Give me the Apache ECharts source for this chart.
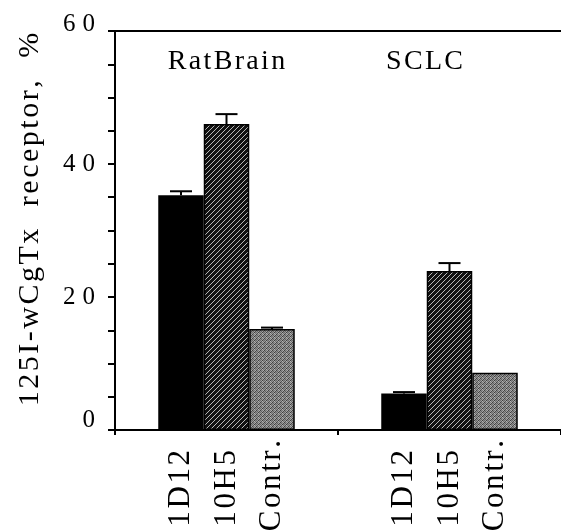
<!DOCTYPE html>
<html>
<head>
<meta charset="utf-8">
<script src="https://cdn.jsdelivr.net/npm/echarts@6/dist/echarts.min.js"></script>
<style>
  html, body { margin: 0; padding: 0; background: #fff; }
  #chart { width: 561px; height: 531px; }
</style>
</head>
<body>
<div id="chart"></div>
<script>
// values (% of 125I-wCgTx receptor)
const groups = ['RatBrain', 'SCLC'];
const antibodies = ['1D12', '10H5', 'Contr.'];
const mean1D12 = [35.3, 5.5];
const mean10H5 = [46.0, 23.9];
const meanContr = [15.2, 8.6];
const err1D12 = [0.6, 0.2];
const err10H5 = [1.5, 1.2];
const errContr = [0.2, 0];
const yTicks = [0, 20, 40, 60];
const yName = '125I-wCgTx  receptor,  %';

const means = [mean1D12, mean10H5, meanContr];
const errs = [err1D12, err10H5, errContr];

const FONT = "'Liberation Serif', 'Times New Roman', serif";
const BAR_W = 45.5;

// the print uses wide letter spacing
const THIN = '\u2009';
const HAIR = '\u200A';
const track = (s, sp) => s.split('').join(sp);

// fill patterns
function hatch() {
    const n = 5;
    const c = document.createElement('canvas');
    c.width = n; c.height = n;
    const g = c.getContext('2d');
    g.fillStyle = '#111';
    g.fillRect(0, 0, n, n);
    g.fillStyle = '#b8b8b8';
    for (let i = 0; i < n; i++) g.fillRect(i, n - 1 - i, 1, 1);
    return c;
}
function stipple() {
    const shades = [
        '#6a6a6a', '#a0a0a0', '#3c3c3c', '#888888',
        '#989898', '#555555', '#b4b4b4', '#707070',
        '#404040', '#8c8c8c', '#7a7a7a', '#acacac',
        '#909090', '#606060', '#a4a4a4', '#4a4a4a'
    ];
    const c = document.createElement('canvas');
    c.width = 4; c.height = 4;
    const g = c.getContext('2d');
    shades.forEach((col, i) => {
        g.fillStyle = col;
        g.fillRect(i % 4, Math.floor(i / 4), 1, 1);
    });
    return c;
}
const fills = [
    '#000',
    { image: hatch(), repeat: 'repeat' },
    { image: stipple(), repeat: 'repeat' }
];

const errorData = [];
errs.forEach((list, s) => list.forEach((e, k) => {
    if (e > 0) errorData.push([k, means[s][k], e, s]);
}));

const chart = echarts.init(document.getElementById('chart'), null, { renderer: 'canvas' });

const tickText = { fontFamily: FONT, fontSize: 25, color: '#000' };

const option = {
    animation: false,
    backgroundColor: '#fff',
    textStyle: { fontFamily: FONT, color: '#000' },
    grid: { left: 115, right: 0, top: 31, bottom: 101 },
    xAxis: [
        {
            type: 'category',
            data: groups,
            position: 'bottom',
            axisLine: { lineStyle: { color: '#000', width: 2 } },
            axisTick: { show: true, length: 5, lineStyle: { color: '#000', width: 2 } },
            axisLabel: { show: false }
        },
        {
            type: 'category',
            data: groups,
            position: 'top',
            axisLine: { show: true, lineStyle: { color: '#000', width: 2 } },
            axisTick: { show: false },
            axisLabel: {
                inside: true,
                margin: 17,
                formatter: (v, i) => '{g' + i + '|' + track(v, HAIR) + '}',
                rich: {
                    g0: { fontFamily: FONT, fontSize: 28, color: '#000' },
                    g1: { fontFamily: FONT, fontSize: 28, color: '#000', padding: [0, 50, 0, 0] }
                }
            }
        }
    ],
    yAxis: {
        type: 'value',
        min: 0,
        max: 60,
        interval: 5,
        axisLine: { show: true, lineStyle: { color: '#000', width: 2 } },
        axisTick: { show: true, length: 7, lineStyle: { color: '#000', width: 2 } },
        splitLine: { show: false },
        axisLabel: {
            margin: 20,
            formatter: v => {
                if (!yTicks.includes(v)) return '';
                const t = track(String(v), THIN + HAIR);
                if (v === 0) return '{lo|' + t + '}';
                if (v === 60) return '{hi|' + t + '}';
                return '{mid|' + t + '}';
            },
            rich: {
                lo: Object.assign({ padding: [0, 0, 20, 0] }, tickText),
                hi: Object.assign({ padding: [0, 0, 14, 0] }, tickText),
                mid: tickText
            }
        },
        name: track(yName, HAIR),
        nameLocation: 'middle',
        nameGap: 70,
        nameRotate: 90,
        nameTextStyle: { fontFamily: FONT, fontSize: 30, color: '#000', padding: [0, 0, 0, 22] }
    },
    series: antibodies.map((name, s) => ({
        type: 'bar',
        name: name,
        data: means[s],
        barWidth: BAR_W,
        barGap: '0%',
        itemStyle: {
            color: fills[s],
            borderColor: '#000',
            borderWidth: s === 0 ? 0 : 1.5
        },
        label: {
            show: true,
            position: 'bottom',
            distance: s === 2 ? 10 : 20,
            rotate: 90,
            align: 'right',
            verticalAlign: 'middle',
            fontFamily: FONT,
            fontSize: 31,
            color: '#000',
            formatter: () => track(name, HAIR)
        }
    })).concat([{
        type: 'custom',
        data: errorData,
        encode: { x: 0, y: 1 },
        z: 5,
        renderItem: (params, api) => {
            const base = api.coord([api.value(0), api.value(1)]);
            const top = api.coord([api.value(0), api.value(1) + api.value(2)]);
            const x = base[0] + (api.value(3) - 1) * BAR_W;
            return {
                type: 'group',
                children: [
                    { type: 'line', shape: { x1: x, y1: base[1], x2: x, y2: top[1] },
                      style: { stroke: '#000', lineWidth: 2 } },
                    { type: 'line', shape: { x1: x - 11, y1: top[1], x2: x + 11, y2: top[1] },
                      style: { stroke: '#000', lineWidth: 2 } }
                ]
            };
        }
    }])
};

chart.setOption(option);
</script>
</body>
</html>
